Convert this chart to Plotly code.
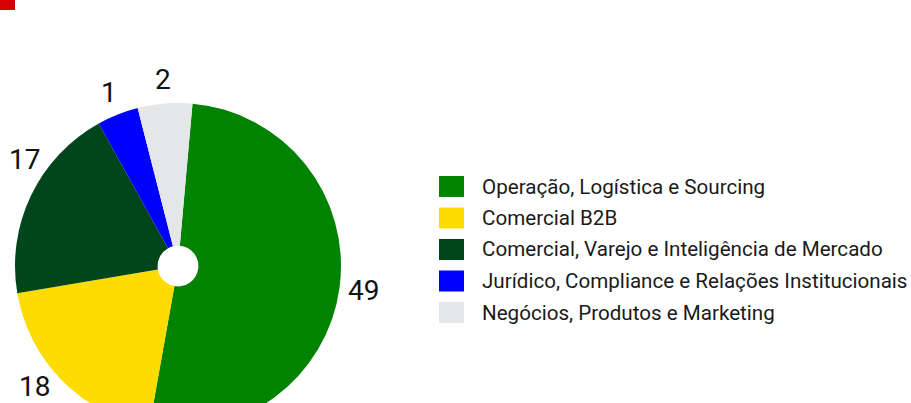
import math
import plotly.graph_objects as go

# ---- data ----
categories = [
    "Operação, Logística e Sourcing",
    "Comercial B2B",
    "Comercial, Varejo e Inteligência de Mercado",
    "Jurídico, Compliance e Relações Institucionais",
    "Negócios, Produtos e Marketing",
]
counts = [49, 18, 17, 1, 2]                 # labels shown on the chart
slice_share = [51.4, 19.5, 19.6, 4.1, 5.4]  # slice sizes as drawn (%)
colors = ["#008300", "#FFDC00", "#00461A", "#0000FF", "#E5E6E8"]

W, H = 911, 470   # figure taller than the 403px window -> pie cut at bottom
VISIBLE_H = 403
ROTATION = 5.1
CX, CY, R = 178, 266, 163   # pie centre / radius in pixels


def px_x(x):
    return x / W


def px_y(y):
    return 1 - y / H


fig = go.Figure()
fig.add_trace(go.Pie(
    labels=categories,
    values=slice_share,
    textinfo="none",
    marker=dict(colors=colors, line=dict(width=0)),
    hole=0.125,
    sort=False,
    direction="clockwise",
    rotation=ROTATION,
    hoverinfo="none",
    showlegend=False,
    domain=dict(x=[px_x(CX - R), px_x(CX + R)], y=[px_y(CY + R), px_y(CY - R)]),
))

shapes = [
    dict(type="rect", xref="paper", yref="paper",
         x0=px_x(0), x1=px_x(15), y0=px_y(10), y1=px_y(0),
         fillcolor="#D50000", line=dict(width=0)),
]
annotations = []

# value labels outside the slices, at each slice's mid-angle; labels that
# would leave the page slide along the label circle until they fit
total = sum(slice_share)
cum = 0.0
rl = R + 24
XMIN, YMAX = 24, VISIBLE_H - 17
for c, share in zip(counts, slice_share):
    mid = math.radians(ROTATION + (cum + share / 2) / total * 360)
    cum += share
    lx = CX + rl * math.sin(mid)
    ly = CY - rl * math.cos(mid)
    if lx < XMIN:
        lx = XMIN
        ly = CY + math.copysign(math.sqrt(rl ** 2 - (lx - CX) ** 2), ly - CY)
    if ly > YMAX:
        ly = YMAX
        lx = CX + math.copysign(math.sqrt(rl ** 2 - (ly - CY) ** 2), lx - CX)
    annotations.append(dict(xref="paper", yref="paper", x=px_x(lx), y=px_y(ly),
                            xanchor="center", yanchor="middle", text=str(c),
                            showarrow=False,
                            font=dict(family="Roboto", size=28, color="#111111")))

# legend
for i, (cat, col) in enumerate(zip(categories, colors)):
    yc = 186.5 + i * 31.5
    shapes.append(dict(type="rect", xref="paper", yref="paper",
                       x0=px_x(439), x1=px_x(464),
                       y0=px_y(yc + 10.5), y1=px_y(yc - 10.5),
                       fillcolor=col, line=dict(width=0)))
    annotations.append(dict(xref="paper", yref="paper",
                            x=px_x(480), y=px_y(yc), xanchor="left", yanchor="middle",
                            text=cat, showarrow=False,
                            font=dict(family="Roboto", size=20.6, color="#1a1a1a")))

fig.update_layout(
    width=W, height=H,
    margin=dict(l=0, r=0, t=0, b=0, autoexpand=False),
    paper_bgcolor="white", plot_bgcolor="white",
    shapes=shapes, annotations=annotations,
)

fig.write_html(
    "out.html",
    config={"displayModeBar": False},
    post_script=(
        "document.body.style.margin='0';"
        "document.body.style.overflow='hidden';"
        "document.documentElement.style.overflow='hidden';"
    ),
)
